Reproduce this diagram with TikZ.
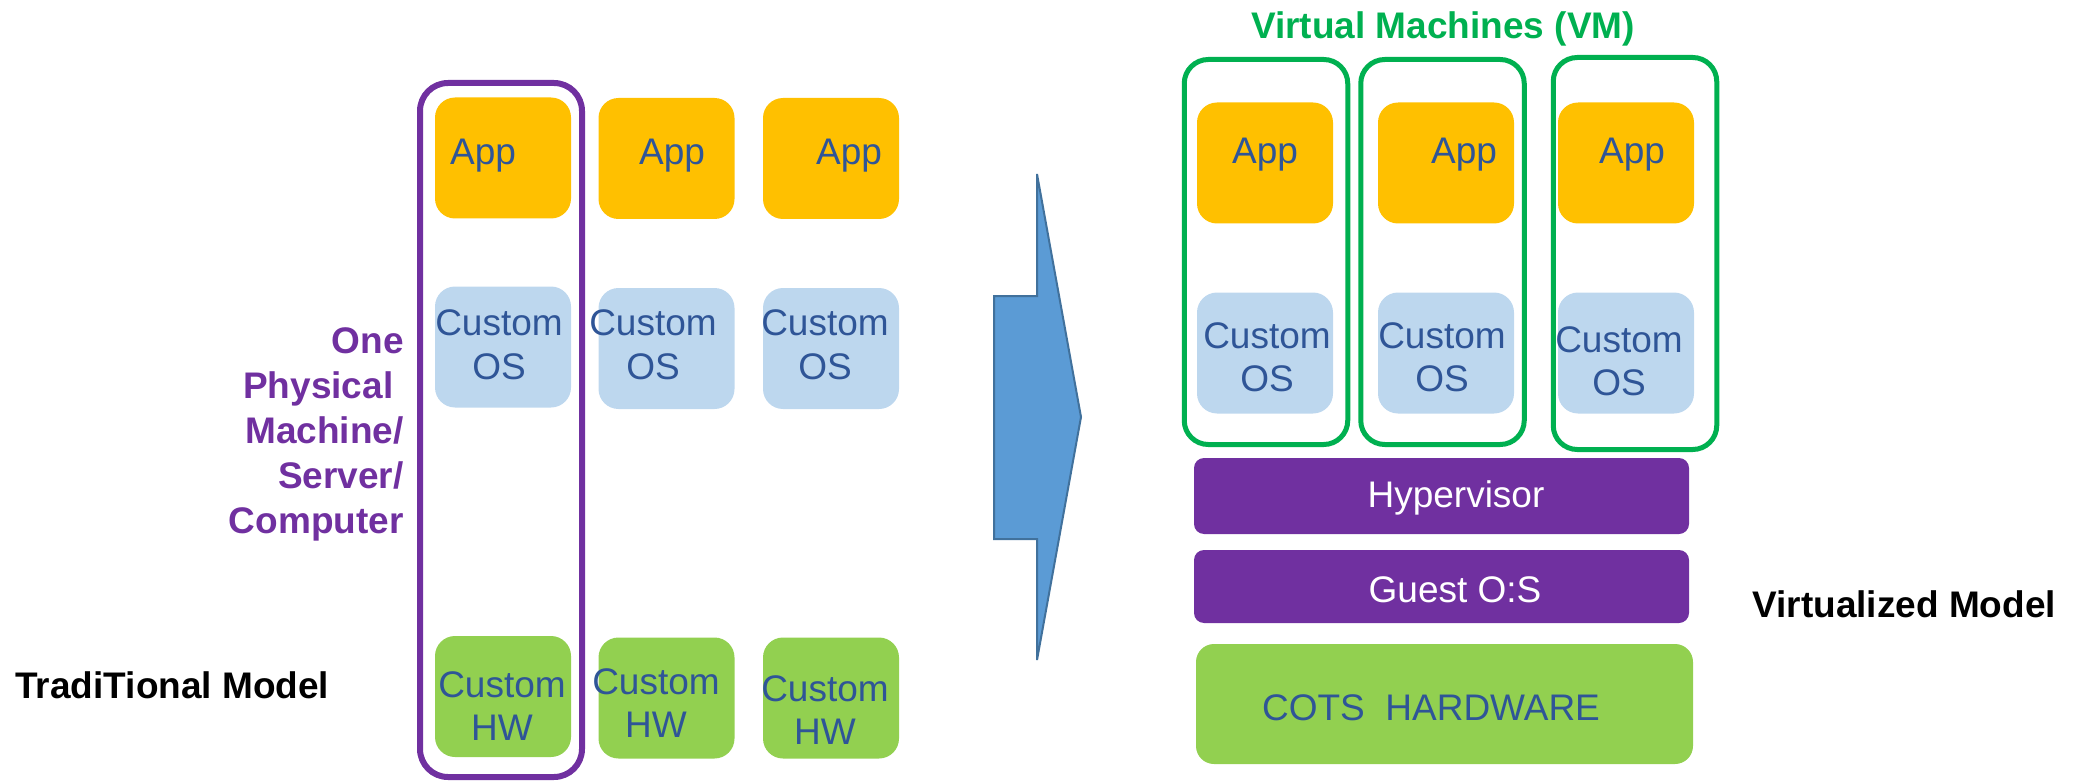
\documentclass[tikz,border=0pt]{standalone}
\usepackage{fontspec}
\setmainfont{Liberation Sans}
\definecolor{appfill}{HTML}{FFC000}
\definecolor{osfill}{HTML}{BDD7EE}
\definecolor{hwfill}{HTML}{92D050}
\definecolor{txtblue}{HTML}{2F5597}
\definecolor{purp}{HTML}{7030A0}
\definecolor{vmgreen}{HTML}{00B050}
\definecolor{arrowfill}{HTML}{5B9BD5}
\definecolor{arrowline}{HTML}{41719C}
\begin{document}
\begin{tikzpicture}[x=0.5pt,y=-0.5pt,
  tile/.style={rounded corners=10pt, minimum width=68pt, minimum height=60.5pt, inner sep=0pt},
  appbox/.style={tile, fill=appfill},
  osbox/.style={tile, fill=osfill},
  hwbox/.style={tile, fill=hwfill},
  lbl/.style={text=txtblue, font=\fontsize{18.5}{21.5}\selectfont, align=center, inner sep=0pt, anchor=base},
  wlbl/.style={lbl, text=white},
  layer/.style={rounded corners=5pt, fill=purp, minimum width=247.5pt, inner sep=0pt},
  vmframe/.style={draw=vmgreen, line width=2.5pt, rounded corners=12pt, minimum width=81.75pt, minimum height=192.5pt, inner sep=0pt},
  pmframe/.style={draw=purp, line width=3pt, rounded corners=14pt, minimum width=81pt, minimum height=347pt, inner sep=0pt},
  heading/.style={font=\bfseries\fontsize{18.5}{22.5}\selectfont, inner sep=0pt},
  blockarrow/.style={fill=arrowfill, draw=arrowline, line width=1pt, line join=miter}
]
\useasboundingbox (0,0) rectangle (2074,781);

% ---------- traditional model: three stacks ----------
\node[appbox] (app1) at (503,158) {};
\node[appbox] (app2) at (666.5,158.5) {};
\node[appbox] (app3) at (831,158.5) {};
\node[osbox] (os1) at (503,347) {};
\node[osbox] (os2) at (666.5,348.5) {};
\node[osbox] (os3) at (831,348.5) {};
\node[hwbox] (hw1) at (503,696.5) {};
\node[hwbox] (hw2) at (666.5,698) {};
\node[hwbox] (hw3) at (831,698) {};

% two-line labels are placed by the baseline of their last line
\node[lbl] (tapp1) at (483,165) {App};
\node[lbl] (tapp2) at (672,165) {App};
\node[lbl] (tapp3) at (849,165) {App};
\node[lbl] (tos1) at (499,379) {Custom\\OS};
\node[lbl] (tos2) at (653,379) {Custom\\OS};
\node[lbl] (tos3) at (825,379) {Custom\\OS};
\node[lbl] (thw1) at (502,740) {Custom\\HW};
\node[lbl] (thw2) at (656,737) {Custom\\HW};
\node[lbl] (thw3) at (825,744) {Custom\\HW};

% frame round the first stack
\node[pmframe] (pm) at (501,430) {};
\node[heading, text=purp, align=right, anchor=base east] (pmlabel) at (404,533)
  {One\\Physical\hphantom{\ }\\Machine/\\Server/\\Computer};
\node[heading, anchor=base west] (tradlabel) at (15,698) {TradiTional Model};

% ---------- block arrow ----------
\coordinate (ar1) at (994,296);
\coordinate (ar2) at (1037,296);
\coordinate (ar3) at (1037,174);
\coordinate (ar4) at (1081,417);
\coordinate (ar5) at (1037,660);
\coordinate (ar6) at (1037,539);
\coordinate (ar7) at (994,539);
\draw[blockarrow] (ar1) -- (ar2) -- (ar3) -- (ar4) -- (ar5) -- (ar6) -- (ar7) -- cycle;

% ---------- virtualized model ----------
\node[heading, text=vmgreen, anchor=base] (vmtitle) at (1443,39) {Virtual Machines (VM)};

\node[vmframe] (vm1) at (1266,252) {};
\node[vmframe] (vm2) at (1442.5,252) {};
\node[vmframe, minimum height=196pt] (vm3) at (1635,253.5) {};

\node[appbox] (vapp1) at (1265,163) {};
\node[appbox] (vapp2) at (1446,163) {};
\node[appbox] (vapp3) at (1626,163) {};
\node[osbox] (vos1) at (1265,353) {};
\node[osbox] (vos2) at (1446,353) {};
\node[osbox] (vos3) at (1626,353) {};

\node[lbl] (tvapp1) at (1265,163) {App};
\node[lbl] (tvapp2) at (1464,163) {App};
\node[lbl] (tvapp3) at (1632,163) {App};
\node[lbl] (tvos1) at (1267,391) {Custom\\OS};
\node[lbl] (tvos2) at (1442,391) {Custom\\OS};
\node[lbl] (tvos3) at (1619,395) {Custom\\OS};

\node[layer, minimum height=38pt] (hyp) at (1441.5,496) {};
\node[layer, minimum height=36.5pt] (guest) at (1441.5,586.5) {};
\node[tile, fill=hwfill, minimum width=248.5pt, minimum height=60pt, rounded corners=9pt] (cots) at (1444.5,704) {};

\node[wlbl] (thyp) at (1456,507) {Hypervisor};
\node[wlbl] (tguest) at (1455,602) {Guest O:S};
\node[lbl] (tcots) at (1431,720) {COTS~~HARDWARE};

\node[heading, anchor=base west] (virtlabel) at (1752,617) {Virtualized Model};
\end{tikzpicture}
\end{document}
